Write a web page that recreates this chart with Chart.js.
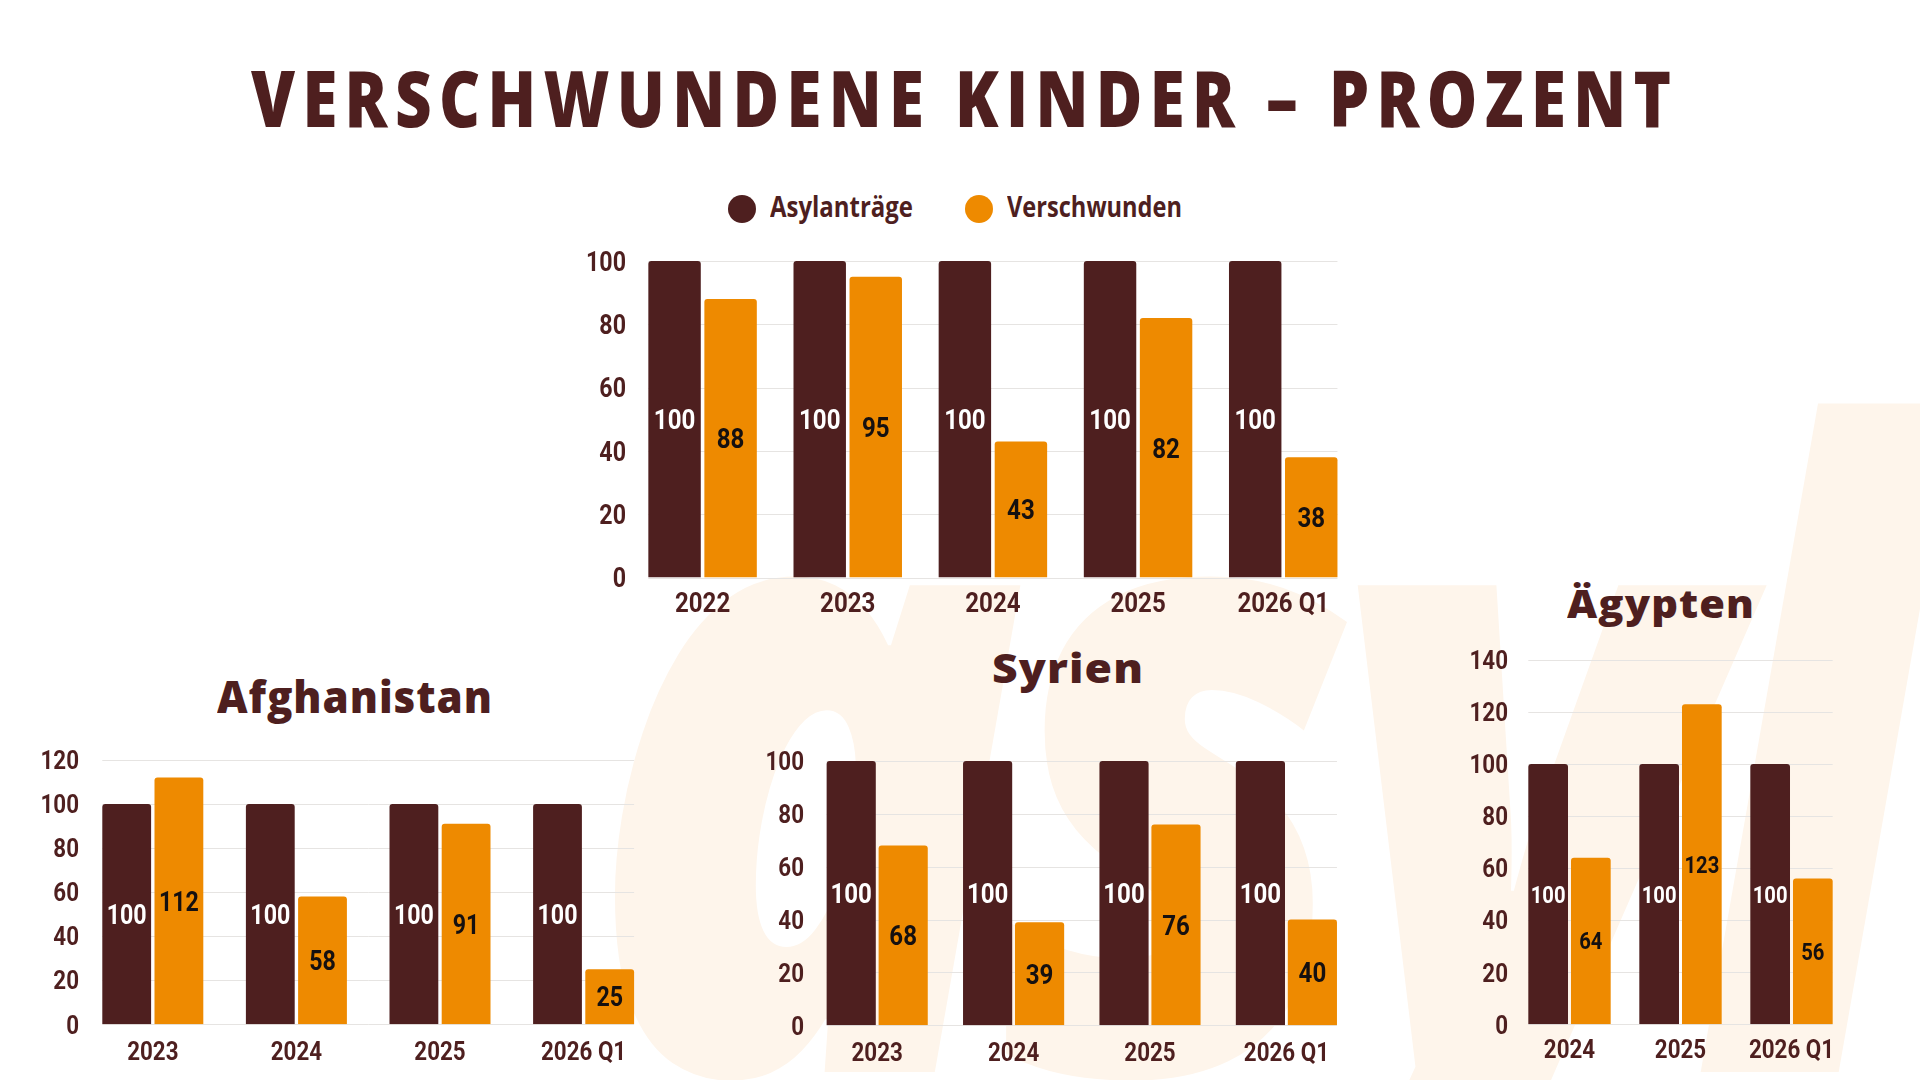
<!DOCTYPE html>
<html lang="de">
<head>
<meta charset="utf-8">
<title>Verschwundene Kinder – Prozent</title>
<script src="https://cdn.jsdelivr.net/npm/chart.js@4.4.1/dist/chart.umd.min.js"></script>
<style>
html,body{margin:0;padding:0;background:#ffffff;}
body{width:1920px;height:1080px;position:relative;overflow:hidden;}
.box{position:absolute;}
.txt{position:absolute;white-space:nowrap;line-height:normal;transform-origin:0 0;}
.dot{position:absolute;border-radius:50%;}
</style>
</head>
<body>
<script>
// ---------- data ----------
const TITLE = 'VERSCHWUNDENE KINDER – PROZENT';
const WATERMARK = 'asyl';
const SERIES = ['Asylanträge', 'Verschwunden'];
const COLORS = ['#4E1F1F', '#EE8A00'];
const LABEL_COLORS = ['#FFFFFF', '#151010'];

const GESAMT_LABELS = ['2022', '2023', '2024', '2025', '2026 Q1'];
const GESAMT_ASYL = [100, 100, 100, 100, 100];
const GESAMT_VERSCHW = [88, 95, 43, 82, 38];
const GESAMT_TICKS = [0, 20, 40, 60, 80, 100];

const AFG_TITLE = 'Afghanistan';
const AFG_LABELS = ['2023', '2024', '2025', '2026 Q1'];
const AFG_ASYL = [100, 100, 100, 100];
const AFG_VERSCHW = [112, 58, 91, 25];
const AFG_TICKS = [0, 20, 40, 60, 80, 100, 120];

const SYR_TITLE = 'Syrien';
const SYR_LABELS = ['2023', '2024', '2025', '2026 Q1'];
const SYR_ASYL = [100, 100, 100, 100];
const SYR_VERSCHW = [68, 39, 76, 40];
const SYR_TICKS = [0, 20, 40, 60, 80, 100];

const EGY_TITLE = 'Ägypten';
const EGY_LABELS = ['2024', '2025', '2026 Q1'];
const EGY_ASYL = [100, 100, 100];
const EGY_VERSCHW = [64, 123, 56];
const EGY_TICKS = [0, 20, 40, 60, 80, 100, 120, 140];

// ---------- style ----------
const INK = '#4E1F1F';
const GRID = '#E6E4E2';
const WM_COLOR = '#FEF5EB';
const F_COND = "Roboto, 'DejaVu Sans Condensed', sans-serif";
const F_HEAD = "'Open Sans', 'Lato', 'DejaVu Sans', sans-serif";
const COND_SX = 0.86;      // horizontal squeeze for the condensed look
const DIGIT_H = 0.711;     // digit height / em (Roboto)

// ---------- html text helper ----------
function placeText(text, o) {
  const d = document.createElement('div');
  d.className = 'txt';
  d.style.font = (o.style || 'normal') + ' ' + o.weight + ' ' + o.size + 'px ' + o.family;
  d.style.color = o.color;
  const ls = o.ls || 0;
  d.style.letterSpacing = ls + 'px';
  if (o.z !== undefined) d.style.zIndex = o.z;
  const s = document.createElement('span');
  s.textContent = text;
  s.style.marginRight = (-ls) + 'px';
  const m = document.createElement('span');
  m.style.cssText = 'display:inline-block;width:0;height:0;vertical-align:baseline;';
  d.appendChild(s); d.appendChild(m);
  document.body.appendChild(d);
  const w = s.getBoundingClientRect().width - ls;
  const sc = (o.x1 - o.x0) / w;
  d.style.left = o.x0 + 'px';
  d.style.top = (o.base - m.offsetTop) + 'px';
  d.style.transform = 'scaleX(' + sc + ')';
  return d;
}

// watermark
placeText(WATERMARK, {x0: 585, x1: 1930, base: 1072, size: 880, weight: 800, style: 'italic',
  family: F_HEAD, color: WM_COLOR, ls: -40, z: 0});

// main title
placeText(TITLE, {x0: 251, x1: 1671, base: 127, size: 78, weight: 800, family: F_HEAD, color: INK, ls: 9});

// legend
const LEG = [{cx: 741.7, x0: 770, x1: 913}, {cx: 979.2, x0: 1007, x1: 1182}];
SERIES.forEach((name, i) => {
  const dot = document.createElement('div');
  dot.className = 'dot';
  dot.style.cssText += 'left:' + (LEG[i].cx - 14) + 'px;top:' + (209 - 14) + 'px;width:28px;height:28px;background:' + COLORS[i] + ';';
  document.body.appendChild(dot);
  placeText(name, {x0: LEG[i].x0, x1: LEG[i].x1, base: 216.7, size: 28, weight: 700, family: F_HEAD, color: INK, ls: 0});
});

// sub titles
placeText(AFG_TITLE, {x0: 217, x1: 492, base: 712.7, size: 45, weight: 800, family: F_HEAD, color: INK, ls: 1});
placeText(SYR_TITLE, {x0: 992, x1: 1143, base: 683, size: 40, weight: 800, family: F_HEAD, color: INK, ls: 1});
placeText(EGY_TITLE, {x0: 1567, x1: 1754, base: 618, size: 38, weight: 800, family: F_HEAD, color: INK, ls: 1});

// ---------- condensed canvas text ----------
function drawCond(ctx, text, x, cy, align, size, color) {
  ctx.save();
  ctx.font = 'bold ' + size + 'px ' + F_COND;
  ctx.fillStyle = color;
  ctx.textAlign = align;
  ctx.textBaseline = 'alphabetic';
  ctx.translate(x, cy + DIGIT_H * size / 2);
  ctx.scale(COND_SX, 1);
  ctx.fillText(text, 0, 0);
  ctx.restore();
}

// ---------- chart plugins ----------
const flushGrid = {
  id: 'flushGrid',
  beforeDatasetsDraw(chart) {
    const y = chart.scales.y;
    const metas = chart.getSortedVisibleDatasetMetas();
    const a = metas[0].data[0];
    const lm = metas[metas.length - 1];
    const b = lm.data[lm.data.length - 1];
    const x0 = a.x - a.width / 2, x1 = b.x + b.width / 2;
    const ctx = chart.ctx;
    ctx.save();
    ctx.strokeStyle = GRID;
    ctx.lineWidth = 1;
    y.ticks.forEach((t, i) => {
      const py = Math.round(y.getPixelForTick(i)) + 0.5;
      ctx.beginPath(); ctx.moveTo(x0, py); ctx.lineTo(x1, py); ctx.stroke();
    });
    ctx.restore();
  }
};
const condAxes = {
  id: 'condAxes',
  afterDraw(chart, args, o) {
    const ctx = chart.ctx;
    const xs = chart.scales.x, ys = chart.scales.y;
    ys.ticks.forEach((t, i) => drawCond(ctx, String(t.label), ys.right - o.yPad, ys.getPixelForTick(i), 'right', o.ySize, INK));
    xs.ticks.forEach((t, i) => drawCond(ctx, String(t.label), xs.getPixelForTick(i), xs.top + o.xOff, 'center', o.xSize, INK));
  }
};
const valueLabels = {
  id: 'valueLabels',
  afterDatasetsDraw(chart, args, opts) {
    const ctx = chart.ctx;
    chart.data.datasets.forEach((ds, di) => {
      const meta = chart.getDatasetMeta(di);
      meta.data.forEach((bar, i) => {
        drawCond(ctx, String(ds.data[i]), bar.x, (bar.y + bar.base) / 2, 'center', opts.size, LABEL_COLORS[di]);
      });
    });
  }
};

// ---------- chart factory ----------
const PT = 30, PR = 30, YW = 80, XH = 50;
function makeChart(area, labels, asyl, verschw, ticks, o) {
  const box = document.createElement('div');
  box.className = 'box';
  const left = area.l - YW, top = area.t - PT;
  box.style.left = left + 'px';
  box.style.top = top + 'px';
  box.style.width = (area.r + PR - left) + 'px';
  box.style.height = (area.b + XH - top) + 'px';
  box.style.zIndex = 2;
  const cv = document.createElement('canvas');
  box.appendChild(cv);
  document.body.appendChild(box);
  return new Chart(cv, {
    type: 'bar',
    data: {
      labels: labels,
      datasets: [
        {label: SERIES[0], data: asyl, backgroundColor: COLORS[0], borderRadius: 3,
         categoryPercentage: o.cat, barPercentage: o.bar},
        {label: SERIES[1], data: verschw, backgroundColor: COLORS[1], borderRadius: 3,
         categoryPercentage: o.cat, barPercentage: o.bar}
      ]
    },
    options: {
      responsive: true,
      maintainAspectRatio: false,
      animation: false,
      layout: {padding: {top: PT, right: PR, bottom: 0, left: 0}},
      plugins: {
        legend: {display: false},
        tooltip: {enabled: false},
        title: {display: false},
        valueLabels: {size: o.valSize},
        condAxes: {ySize: o.ySize, xSize: o.xSize, yPad: o.yPad, xOff: o.xOff}
      },
      scales: {
        x: {
          grid: {display: false, drawTicks: false},
          border: {display: false},
          ticks: {display: false, autoSkip: false},
          afterFit(s) { s.height = XH; }
        },
        y: {
          min: ticks[0], max: ticks[ticks.length - 1],
          grid: {display: false, drawTicks: false},
          border: {display: false},
          ticks: {display: false, stepSize: ticks[1] - ticks[0]},
          afterFit(s) { s.width = YW; }
        }
      }
    },
    plugins: [flushGrid, valueLabels, condAxes]
  });
}

makeChart({l: 629.6, r: 1355.4, t: 260.7, b: 577.3}, GESAMT_LABELS, GESAMT_ASYL, GESAMT_VERSCHW, GESAMT_TICKS,
  {cat: 0.772, bar: 0.936, ySize: 27, xSize: 28, valSize: 28, yPad: 4, xOff: 24.7});
makeChart({l: 81, r: 655.4, t: 760, b: 1024.3}, AFG_LABELS, AFG_ASYL, AFG_VERSCHW, AFG_TICKS,
  {cat: 0.727, bar: 0.935, ySize: 26, xSize: 26, valSize: 27, yPad: 2, xOff: 26.3});
makeChart({l: 808.6, r: 1354.2, t: 760.7, b: 1025}, SYR_LABELS, SYR_ASYL, SYR_VERSCHW, SYR_TICKS,
  {cat: 0.762, bar: 0.946, ySize: 26, xSize: 26, valSize: 28, yPad: 5, xOff: 26});
makeChart({l: 1514, r: 1847, t: 660, b: 1024.3}, EGY_LABELS, EGY_ASYL, EGY_VERSCHW, EGY_TICKS,
  {cat: 0.769, bar: 0.93, ySize: 26, xSize: 26, valSize: 23.5, yPad: 6, xOff: 24.7});
</script>
</body>
</html>
